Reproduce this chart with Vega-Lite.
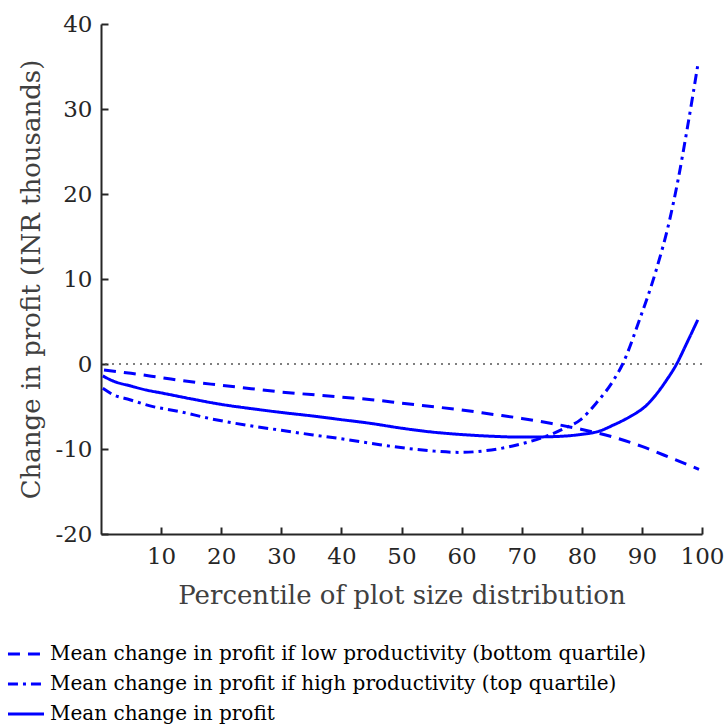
{
  "$schema": "https://vega.github.io/schema/vega-lite/v6.json",
  "width": 601,
  "height": 510,
  "autosize": "none",
  "padding": {"left": 101, "top": 24, "right": 25, "bottom": 192},
  "background": "white",
  "config": {
    "view": {"stroke": null},
    "font": "DejaVu Serif",
    "axis": {
      "grid": false,
      "domainColor": "#262626",
      "domainWidth": 2,
      "tickColor": "#262626",
      "tickWidth": 2,
      "tickSize": -7,
      "labelFlush": false,
      "labelOverlap": false,
      "labelFont": "DejaVu Serif",
      "labelFontSize": 23,
      "labelColor": "#262626",
      "titleFont": "DejaVu Serif",
      "titleFontWeight": "normal",
      "titleColor": "#404040"
    },
    "legend": {
      "symbolStrokeColor": "#0000ff"
    }
  },
  "datasets": {
    "curves": [
      {"pct": 0.5, "value": -0.7, "series": "Mean change in profit if low productivity (bottom quartile)"},
      {"pct": 5, "value": -1.1, "series": "Mean change in profit if low productivity (bottom quartile)"},
      {"pct": 10, "value": -1.6, "series": "Mean change in profit if low productivity (bottom quartile)"},
      {"pct": 15, "value": -2.1, "series": "Mean change in profit if low productivity (bottom quartile)"},
      {"pct": 20, "value": -2.5, "series": "Mean change in profit if low productivity (bottom quartile)"},
      {"pct": 25, "value": -2.9, "series": "Mean change in profit if low productivity (bottom quartile)"},
      {"pct": 30, "value": -3.3, "series": "Mean change in profit if low productivity (bottom quartile)"},
      {"pct": 35, "value": -3.6, "series": "Mean change in profit if low productivity (bottom quartile)"},
      {"pct": 40, "value": -3.9, "series": "Mean change in profit if low productivity (bottom quartile)"},
      {"pct": 45, "value": -4.2, "series": "Mean change in profit if low productivity (bottom quartile)"},
      {"pct": 50, "value": -4.6, "series": "Mean change in profit if low productivity (bottom quartile)"},
      {"pct": 55, "value": -5.0, "series": "Mean change in profit if low productivity (bottom quartile)"},
      {"pct": 60, "value": -5.4, "series": "Mean change in profit if low productivity (bottom quartile)"},
      {"pct": 65, "value": -5.9, "series": "Mean change in profit if low productivity (bottom quartile)"},
      {"pct": 70, "value": -6.4, "series": "Mean change in profit if low productivity (bottom quartile)"},
      {"pct": 75, "value": -7.0, "series": "Mean change in profit if low productivity (bottom quartile)"},
      {"pct": 80, "value": -7.7, "series": "Mean change in profit if low productivity (bottom quartile)"},
      {"pct": 85, "value": -8.55, "series": "Mean change in profit if low productivity (bottom quartile)"},
      {"pct": 90, "value": -9.7, "series": "Mean change in profit if low productivity (bottom quartile)"},
      {"pct": 95, "value": -11.1, "series": "Mean change in profit if low productivity (bottom quartile)"},
      {"pct": 99.5, "value": -12.4, "series": "Mean change in profit if low productivity (bottom quartile)"},

      {"pct": 0.3, "value": -2.86, "series": "Mean change in profit if high productivity (top quartile)"},
      {"pct": 2, "value": -3.6, "series": "Mean change in profit if high productivity (top quartile)"},
      {"pct": 4.8, "value": -4.2, "series": "Mean change in profit if high productivity (top quartile)"},
      {"pct": 8, "value": -4.9, "series": "Mean change in profit if high productivity (top quartile)"},
      {"pct": 13.1, "value": -5.6, "series": "Mean change in profit if high productivity (top quartile)"},
      {"pct": 18, "value": -6.4, "series": "Mean change in profit if high productivity (top quartile)"},
      {"pct": 24.2, "value": -7.2, "series": "Mean change in profit if high productivity (top quartile)"},
      {"pct": 30, "value": -7.8, "series": "Mean change in profit if high productivity (top quartile)"},
      {"pct": 35.3, "value": -8.35, "series": "Mean change in profit if high productivity (top quartile)"},
      {"pct": 40, "value": -8.8, "series": "Mean change in profit if high productivity (top quartile)"},
      {"pct": 46.4, "value": -9.5, "series": "Mean change in profit if high productivity (top quartile)"},
      {"pct": 51.9, "value": -10.0, "series": "Mean change in profit if high productivity (top quartile)"},
      {"pct": 55.5, "value": -10.25, "series": "Mean change in profit if high productivity (top quartile)"},
      {"pct": 59.7, "value": -10.4, "series": "Mean change in profit if high productivity (top quartile)"},
      {"pct": 64, "value": -10.2, "series": "Mean change in profit if high productivity (top quartile)"},
      {"pct": 68.5, "value": -9.65, "series": "Mean change in profit if high productivity (top quartile)"},
      {"pct": 71, "value": -9.2, "series": "Mean change in profit if high productivity (top quartile)"},
      {"pct": 74.1, "value": -8.5, "series": "Mean change in profit if high productivity (top quartile)"},
      {"pct": 77, "value": -7.6, "series": "Mean change in profit if high productivity (top quartile)"},
      {"pct": 79.7, "value": -6.6, "series": "Mean change in profit if high productivity (top quartile)"},
      {"pct": 82.4, "value": -4.6, "series": "Mean change in profit if high productivity (top quartile)"},
      {"pct": 85.2, "value": -2.0, "series": "Mean change in profit if high productivity (top quartile)"},
      {"pct": 86.8, "value": 0.0, "series": "Mean change in profit if high productivity (top quartile)"},
      {"pct": 89.6, "value": 5.2, "series": "Mean change in profit if high productivity (top quartile)"},
      {"pct": 92.4, "value": 11.1, "series": "Mean change in profit if high productivity (top quartile)"},
      {"pct": 94.6, "value": 16.9, "series": "Mean change in profit if high productivity (top quartile)"},
      {"pct": 96.0, "value": 21.6, "series": "Mean change in profit if high productivity (top quartile)"},
      {"pct": 97.4, "value": 27.1, "series": "Mean change in profit if high productivity (top quartile)"},
      {"pct": 99.4, "value": 35.6, "series": "Mean change in profit if high productivity (top quartile)"},

      {"pct": 0.3, "value": -1.4, "series": "Mean change in profit"},
      {"pct": 2, "value": -2.0, "series": "Mean change in profit"},
      {"pct": 5, "value": -2.6, "series": "Mean change in profit"},
      {"pct": 7.5, "value": -3.06, "series": "Mean change in profit"},
      {"pct": 10, "value": -3.4, "series": "Mean change in profit"},
      {"pct": 15, "value": -4.1, "series": "Mean change in profit"},
      {"pct": 20, "value": -4.75, "series": "Mean change in profit"},
      {"pct": 25, "value": -5.25, "series": "Mean change in profit"},
      {"pct": 30, "value": -5.7, "series": "Mean change in profit"},
      {"pct": 35, "value": -6.1, "series": "Mean change in profit"},
      {"pct": 40, "value": -6.55, "series": "Mean change in profit"},
      {"pct": 45, "value": -7.0, "series": "Mean change in profit"},
      {"pct": 50, "value": -7.55, "series": "Mean change in profit"},
      {"pct": 55, "value": -8.0, "series": "Mean change in profit"},
      {"pct": 60, "value": -8.3, "series": "Mean change in profit"},
      {"pct": 65, "value": -8.5, "series": "Mean change in profit"},
      {"pct": 70, "value": -8.6, "series": "Mean change in profit"},
      {"pct": 75, "value": -8.55, "series": "Mean change in profit"},
      {"pct": 79.7, "value": -8.3, "series": "Mean change in profit"},
      {"pct": 82.9, "value": -7.9, "series": "Mean change in profit"},
      {"pct": 85.2, "value": -7.2, "series": "Mean change in profit"},
      {"pct": 88, "value": -6.2, "series": "Mean change in profit"},
      {"pct": 90.7, "value": -4.9, "series": "Mean change in profit"},
      {"pct": 94.1, "value": -1.9, "series": "Mean change in profit"},
      {"pct": 95.7, "value": -0.1, "series": "Mean change in profit"},
      {"pct": 97.5, "value": 2.5, "series": "Mean change in profit"},
      {"pct": 99.3, "value": 5.2, "series": "Mean change in profit"}
    ],
    "zero": [{"value": 0}]
  },
  "layer": [
    {
      "data": {"name": "zero"},
      "mark": {"type": "rule", "color": "#555555", "strokeWidth": 1.5, "strokeDash": [2, 5]},
      "encoding": {"y": {"field": "value", "type": "quantitative"}}
    },
    {
      "data": {"name": "curves"},
      "mark": {"type": "line", "color": "#0000ff", "strokeWidth": 3, "interpolate": "monotone"},
      "encoding": {
        "x": {
          "field": "pct",
          "type": "quantitative",
          "scale": {"domain": [0, 100], "nice": false},
          "axis": {"values": [10, 20, 30, 40, 50, 60, 70, 80, 90, 100], "labelPadding": 18, "title": "Percentile of plot size distribution", "titleFontSize": 26, "titlePadding": 14}
        },
        "y": {
          "field": "value",
          "type": "quantitative",
          "scale": {"domain": [-20, 40], "nice": false},
          "axis": {"values": [-20, -10, 0, 10, 20, 30, 40], "labelExpr": "'' + datum.value", "labelPadding": 16, "title": "Change in profit (INR thousands)", "titleFontSize": 26, "titlePadding": 10}
        },
        "strokeDash": {
          "field": "series",
          "type": "nominal",
          "scale": {
            "domain": ["Mean change in profit if low productivity (bottom quartile)", "Mean change in profit if high productivity (top quartile)", "Mean change in profit"],
            "range": [[12, 8], [10, 5, 3, 5], [1, 0]]
          },
          "legend": {
            "title": null,
            "orient": "none",
            "legendX": -95,
            "legendY": 610,
            "direction": "vertical",
            "symbolType": "stroke",
            "symbolSize": 1300,
            "symbolStrokeWidth": 3,
            "labelFont": "DejaVu Serif",
            "labelFontSize": 20,
            "labelColor": "#000000",
            "labelLimit": 700,
            "labelOffset": 4,
            "rowPadding": -3,
            "padding": 0
          }
        }
      }
    }
  ]
}
